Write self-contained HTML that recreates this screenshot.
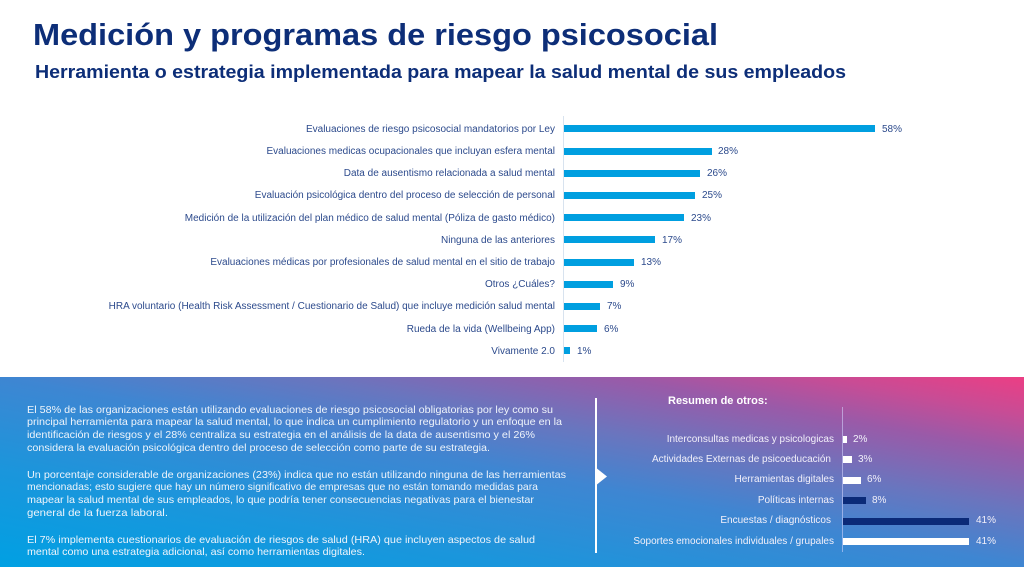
<!DOCTYPE html>
<html>
<head>
<meta charset="utf-8">
<style>
  html,body{margin:0;padding:0;}
  body{width:1024px;height:567px;overflow:hidden;background:#fff;position:relative;font-family:"Liberation Sans",Arial,sans-serif;}
  .abs{position:absolute;white-space:nowrap;}
  .title{left:33px;top:19px;font-size:31px;line-height:31px;font-weight:bold;color:#0d2e78;transform-origin:0 50%;}
  .sub{left:35px;top:63px;font-size:18px;line-height:18px;font-weight:bold;color:#0d2e78;transform-origin:0 50%;}
  .lab{font-size:10px;line-height:12px;color:#2c4a8c;text-align:right;right:469px;margin-top:1px;}
  .bar{position:absolute;left:564px;height:7px;background:#009fe0;}
  .val{font-size:10px;line-height:12px;color:#2c4a8c;margin-top:1px;}
  .grad{position:absolute;left:0;top:377px;width:1024px;height:190px;
    background:linear-gradient(to top right,#00a0e3 0%,#1a96dc 25%,#3e86d2 50%,#6a75be 65%,#9a5aa8 80%,#c84c95 90%,#ec3e84 100%);}
  .p{font-size:10.5px;line-height:13px;color:#eef4fb;left:27px;transform-origin:0 50%;}
  .slab{font-size:10px;line-height:12px;color:#f2f0fa;text-align:right;right:190px;}
  .sbar{position:absolute;left:843px;height:7px;}
  .sval{font-size:10px;line-height:12px;color:#f2f0fa;}
</style>
</head>
<body>
<div class="abs title" id="t1">Medición y programas de riesgo psicosocial</div>
<div class="abs sub" id="t2">Herramienta o estrategia implementada para mapear la salud mental de sus empleados</div>

<div style="position:absolute;left:563px;top:116px;width:1px;height:246px;background:#d8e3ef;"></div>

<div class="abs lab" style="top:122.8px">Evaluaciones de riesgo psicosocial mandatorios por Ley</div>
<div class="bar" style="top:125.3px;width:311px"></div>
<div class="abs val" style="top:122.8px;left:882px">58%</div>

<div class="abs lab" style="top:145px">Evaluaciones medicas ocupacionales que incluyan esfera mental</div>
<div class="bar" style="top:147.5px;width:148px"></div>
<div class="abs val" style="top:145px;left:718px">28%</div>

<div class="abs lab" style="top:167.2px">Data de ausentismo relacionada a salud mental</div>
<div class="bar" style="top:169.7px;width:136px"></div>
<div class="abs val" style="top:167.2px;left:707px">26%</div>

<div class="abs lab" style="top:189.4px">Evaluación psicológica dentro del proceso de selección de personal</div>
<div class="bar" style="top:191.9px;width:131px"></div>
<div class="abs val" style="top:189.4px;left:702px">25%</div>

<div class="abs lab" style="top:211.6px">Medición de la utilización del plan médico de salud mental (Póliza de gasto médico)</div>
<div class="bar" style="top:214.1px;width:120px"></div>
<div class="abs val" style="top:211.6px;left:691px">23%</div>

<div class="abs lab" style="top:233.8px">Ninguna de las anteriores</div>
<div class="bar" style="top:236.3px;width:91px"></div>
<div class="abs val" style="top:233.8px;left:662px">17%</div>

<div class="abs lab" style="top:256px">Evaluaciones médicas por profesionales de salud mental en el sitio de trabajo</div>
<div class="bar" style="top:258.5px;width:70px"></div>
<div class="abs val" style="top:256px;left:641px">13%</div>

<div class="abs lab" style="top:278.2px">Otros ¿Cuáles?</div>
<div class="bar" style="top:280.7px;width:49px"></div>
<div class="abs val" style="top:278.2px;left:620px">9%</div>

<div class="abs lab" style="top:300.4px">HRA voluntario (Health Risk Assessment / Cuestionario de Salud) que incluye medición salud mental</div>
<div class="bar" style="top:302.9px;width:36px"></div>
<div class="abs val" style="top:300.4px;left:607px">7%</div>

<div class="abs lab" style="top:322.6px">Rueda de la vida (Wellbeing App)</div>
<div class="bar" style="top:325.1px;width:33px"></div>
<div class="abs val" style="top:322.6px;left:604px">6%</div>

<div class="abs lab" style="top:344.8px">Vivamente 2.0</div>
<div class="bar" style="top:347.3px;width:6px"></div>
<div class="abs val" style="top:344.8px;left:577px">1%</div>

<div class="grad"></div>

<div class="abs p" id="p1" style="top:403.5px">El 58% de las organizaciones están utilizando evaluaciones de riesgo psicosocial obligatorias por ley como su</div>
<div class="abs p" id="p2" style="top:416.2px">principal herramienta para mapear la salud mental, lo que indica un cumplimiento regulatorio y un enfoque en la</div>
<div class="abs p" id="p3" style="top:429.2px">identificación de riesgos y el 28% centraliza su estrategia en el análisis de la data de ausentismo y el 26%</div>
<div class="abs p" id="p4" style="top:441.8px">considera la evaluación psicológica dentro del proceso de selección como parte de su estrategia.</div>

<div class="abs p" id="p5" style="top:468.5px">Un porcentaje considerable de organizaciones (23%) indica que no están utilizando ninguna de las herramientas</div>
<div class="abs p" id="p6" style="top:481.2px">mencionadas; esto sugiere que hay un número significativo de empresas que no están tomando medidas para</div>
<div class="abs p" id="p7" style="top:494.2px">mapear la salud mental de sus empleados, lo que podría tener consecuencias negativas para el bienestar</div>
<div class="abs p" id="p8" style="top:506.8px">general de la fuerza laboral.</div>

<div class="abs p" id="p9" style="top:533.5px">El 7% implementa cuestionarios de evaluación de riesgos de salud (HRA) que incluyen aspectos de salud</div>
<div class="abs p" id="p10" style="top:545.8px">mental como una estrategia adicional, así como herramientas digitales.</div>

<div style="position:absolute;left:595px;top:398px;width:2px;height:155px;background:#fff;"></div>
<svg style="position:absolute;left:595px;top:467px;" width="14" height="20"><polygon points="0,0 12,9.5 0,19" fill="#fff"/></svg>

<div class="abs" style="left:668px;top:394px;font-size:11px;line-height:14px;font-weight:bold;color:#fff;">Resumen de otros:</div>

<div style="position:absolute;left:842px;top:407px;width:1px;height:145px;background:rgba(215,215,255,0.55);"></div>

<div class="abs slab" style="top:433.5px">Interconsultas medicas y psicologicas</div>
<div class="sbar" style="top:436px;width:4px;background:#fff"></div>
<div class="abs sval" style="top:433.5px;left:853px">2%</div>

<div class="abs slab" style="top:453.9px;right:193px">Actividades Externas de psicoeducación</div>
<div class="sbar" style="top:456.4px;width:9px;background:#fff"></div>
<div class="abs sval" style="top:453.9px;left:858px">3%</div>

<div class="abs slab" style="top:474.3px">Herramientas digitales</div>
<div class="sbar" style="top:476.8px;width:18px;background:#fff"></div>
<div class="abs sval" style="top:474.3px;left:867px">6%</div>

<div class="abs slab" style="top:494.7px">Políticas internas</div>
<div class="sbar" style="top:497.2px;width:23px;background:#0b2a78"></div>
<div class="abs sval" style="top:494.7px;left:872px">8%</div>

<div class="abs slab" style="top:515.1px;right:193px">Encuestas / diagnósticos</div>
<div class="sbar" style="top:517.6px;width:126px;background:#0b2a78"></div>
<div class="abs sval" style="top:515.1px;left:976px">41%</div>

<div class="abs slab" style="top:535.5px">Soportes emocionales individuales / grupales</div>
<div class="sbar" style="top:538px;width:126px;background:#fff"></div>
<div class="abs sval" style="top:535.5px;left:976px">41%</div>

<script>
(function(){
  var targets=[["t1",685],["t2",811],["p1",526],["p2",535],["p3",508],["p4",463],["p5",539],["p6",511],["p7",507],["p8",141],["p9",508],["p10",338]];
  for(var i=0;i<targets.length;i++){
    var el=document.getElementById(targets[i][0]);
    if(!el) continue;
    var w=el.getBoundingClientRect().width;
    if(w>0){
      var s=targets[i][1]/w;
      if(s>0.8&&s<1.25){el.style.transform="scaleX("+s+")";}
    }
  }
})();
</script>
</body>
</html>
